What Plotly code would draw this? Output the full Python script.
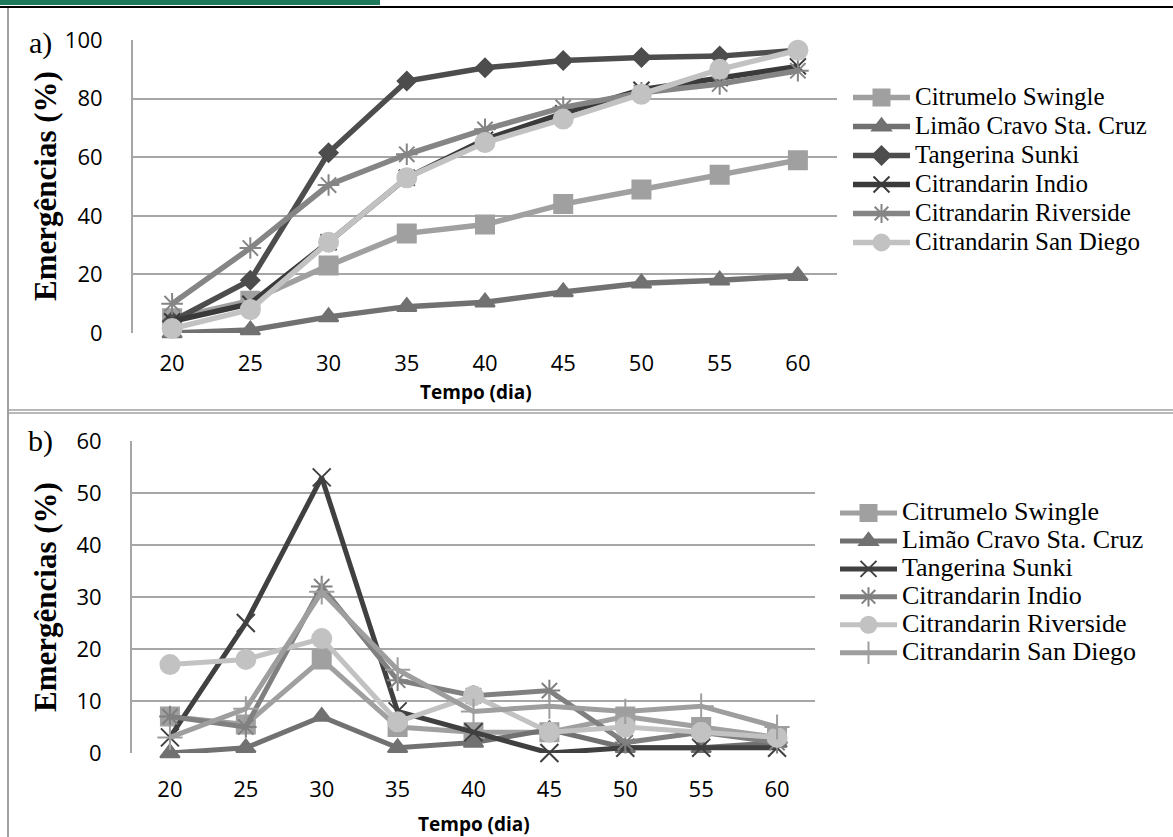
import plotly.graph_objects as go

W, H = 1173, 837

# ---------------- data ----------------
days = [20, 25, 30, 35, 40, 45, 50, 55, 60]

names_a = ["Citrumelo Swingle", "Limão Cravo Sta. Cruz", "Tangerina Sunki",
           "Citrandarin Indio", "Citrandarin Riverside", "Citrandarin San Diego"]
swingle_a = [5, 11, 23, 34, 37, 44, 49, 54, 59]
limao_a = [0, 1, 5.5, 9, 10.5, 14, 17, 18, 19.5]
sunki_a = [4, 18, 61.5, 86, 90.5, 93, 94, 94.5, 96.5]
indio_a = [4, 10, 31, 53, 66, 75, 83, 87, 91]
riverside_a = [10, 29, 50.5, 61, 69.5, 77, 82, 85, 89.5]
sandiego_a = [1.5, 8, 31, 53, 65, 73, 81.5, 90, 96.5]

names_b = ["Citrumelo Swingle", "Limão Cravo Sta. Cruz", "Tangerina Sunki",
           "Citrandarin Indio", "Citrandarin Riverside", "Citrandarin San Diego"]
swingle_b = [7, 5.5, 18, 5, 4, 4, 7, 5, 3]
limao_b = [0, 1, 7, 1, 2, 4.5, 1, 1, 2]
sunki_b = [3, 25, 53, 8, 4, 0, 1, 1, 1]
indio_b = [7, 5, 32, 14, 11, 12, 2, 4, 2]
riverside_b = [17, 18, 22, 6, 11, 4, 5, 4, 3]
sandiego_b = [3, 8.5, 31, 16, 8, 9, 8, 9, 5]

ticks_a = [0, 20, 40, 60, 80, 100]
ticks_b = [0, 10, 20, 30, 40, 50, 60]

# ---------------- styles ----------------
styles_a = [
    dict(color="#a0a0a0", symbol="square", size=18),
    dict(color="#717171", symbol="triangle-up", size=17),
    dict(color="#4d4d4d", symbol="diamond", size=14),
    dict(color="#3a3a3a", symbol="x-thin-open", size=16),
    dict(color="#858585", symbol="asterisk-open", size=18),
    dict(color="#c2c2c2", symbol="circle", size=19),
]
styles_b = [
    dict(color="#a0a0a0", symbol="square", size=18),
    dict(color="#717171", symbol="triangle-up", size=17),
    dict(color="#404040", symbol="x-thin-open", size=18),
    dict(color="#808080", symbol="asterisk-open", size=18),
    dict(color="#c2c2c2", symbol="circle", size=19),
    dict(color="#9e9e9e", symbol="cross-thin-open", size=18),
]


def px(x):
    return x / W


def py(y):
    return 1 - y / H


def legname(n, size):
    return '<span style="font-size:%dpx">%s</span>' % (size, n)


fig = go.Figure()

series_a = [swingle_a, limao_a, sunki_a, indio_a, riverside_a, sandiego_a]
for name, vals, st in zip(names_a, series_a, styles_a):
    fig.add_trace(go.Scatter(
        x=days, y=vals, name=legname(name, 25), mode="lines+markers",
        line=dict(color=st["color"], width=5.5),
        marker=dict(symbol=st["symbol"], size=st["size"], color=st["color"],
                    line=dict(color=st["color"], width=2)),
        xaxis="x", yaxis="y", legend="legend", cliponaxis=False,
    ))

series_b = [swingle_b, limao_b, sunki_b, indio_b, riverside_b, sandiego_b]
for name, vals, st in zip(names_b, series_b, styles_b):
    fig.add_trace(go.Scatter(
        x=days, y=vals, name=legname(name, 26), mode="lines+markers",
        line=dict(color=st["color"], width=5),
        marker=dict(symbol=st["symbol"], size=st["size"], color=st["color"],
                    line=dict(color=st["color"], width=2)),
        xaxis="x2", yaxis="y2", legend="legend2", cliponaxis=False,
    ))

tickfont = dict(family="Open Sans", size=22, color="black")
grid = "#a6a6a6"

xcommon = dict(range=[17.5, 62.5], tickvals=days, ticktext=[str(d) for d in days],
               showgrid=False, zeroline=False, showline=False, ticks="",
               tickfont=tickfont, fixedrange=True, automargin=False)
ycommon = dict(showgrid=True, gridcolor=grid, gridwidth=2, zeroline=False,
               showline=True, linecolor=grid, linewidth=2, ticks="",
               tickfont=tickfont, ticklabelstandoff=24, fixedrange=True,
               automargin=False)

fig.update_layout(
    width=W, height=H,
    margin=dict(l=0, r=0, t=0, b=0, pad=0, autoexpand=False),
    paper_bgcolor="white", plot_bgcolor="white",
    xaxis=dict(domain=[px(133), px(837)], anchor="y", ticklabelstandoff=15, **xcommon),
    yaxis=dict(domain=[py(333), py(40)], anchor="x", range=[0, 100],
               tickvals=ticks_a, **ycommon),
    xaxis2=dict(domain=[px(132), px(815)], anchor="y2", ticklabelstandoff=21, **xcommon),
    yaxis2=dict(domain=[py(753), py(441)], anchor="x2", range=[0, 60],
                tickvals=ticks_b, **ycommon),
    legend=dict(x=px(848), y=py(78), xanchor="left", yanchor="top",
                font=dict(family="Liberation Serif", size=20, color="black"),
                itemwidth=57, tracegroupgap=0,
                bgcolor="rgba(0,0,0,0)", traceorder="normal"),
    legend2=dict(x=px(835), y=py(494), xanchor="left", yanchor="top",
                 font=dict(family="Liberation Serif", size=19.2, color="black"),
                 itemwidth=57, tracegroupgap=0,
                 bgcolor="rgba(0,0,0,0)", traceorder="normal"),
    showlegend=True,
)

serif_bold = dict(family="Liberation Serif", size=31, color="black")
calibri_bold = dict(family="Open Sans", size=19, color="black")
annots = [
    dict(x=px(40), y=py(43), text="a)", font=dict(family="Liberation Serif", size=30, color="black")),
    dict(x=px(40), y=py(441), text="b)", font=dict(family="Liberation Serif", size=30, color="black")),
    dict(x=px(45), y=py(186), text="<b>Emergências (%)</b>", textangle=-90, font=serif_bold),
    dict(x=px(45), y=py(597), text="<b>Emergências (%)</b>", textangle=-90, font=serif_bold),
    dict(x=px(476), y=py(392), text="<b>Tempo (dia)</b>", font=calibri_bold),
    dict(x=px(474), y=py(824), text="<b>Tempo (dia)</b>", font=calibri_bold),
]
for a in annots:
    a.update(xref="paper", yref="paper", showarrow=False, xanchor="center", yanchor="middle")
fig.update_layout(annotations=annots)

shapes = [
    # header band
    dict(type="rect", x0=0, x1=px(380), y0=py(5), y1=1, fillcolor="#1f7a5c", line=dict(width=0)),
    dict(type="line", x0=0, x1=1, y0=py(7), y1=py(7), line=dict(color="black", width=2)),
    # panel frames
    dict(type="line", x0=px(8), x1=px(8), y0=py(8), y1=0, line=dict(color="#a0a0a0", width=2)),
    dict(type="line", x0=px(8), x1=1, y0=py(410), y1=py(410), line=dict(color="#a0a0a0", width=1.5)),
    dict(type="line", x0=px(8), x1=1, y0=py(413), y1=py(413), line=dict(color="#a0a0a0", width=1.5)),
]
for s in shapes:
    s.update(xref="paper", yref="paper", layer="above")
fig.update_layout(shapes=shapes)

fig.write_html("out.html",
               config={"displayModeBar": False},
               post_script="document.body.style.margin='0px';document.body.style.overflow='hidden';")
